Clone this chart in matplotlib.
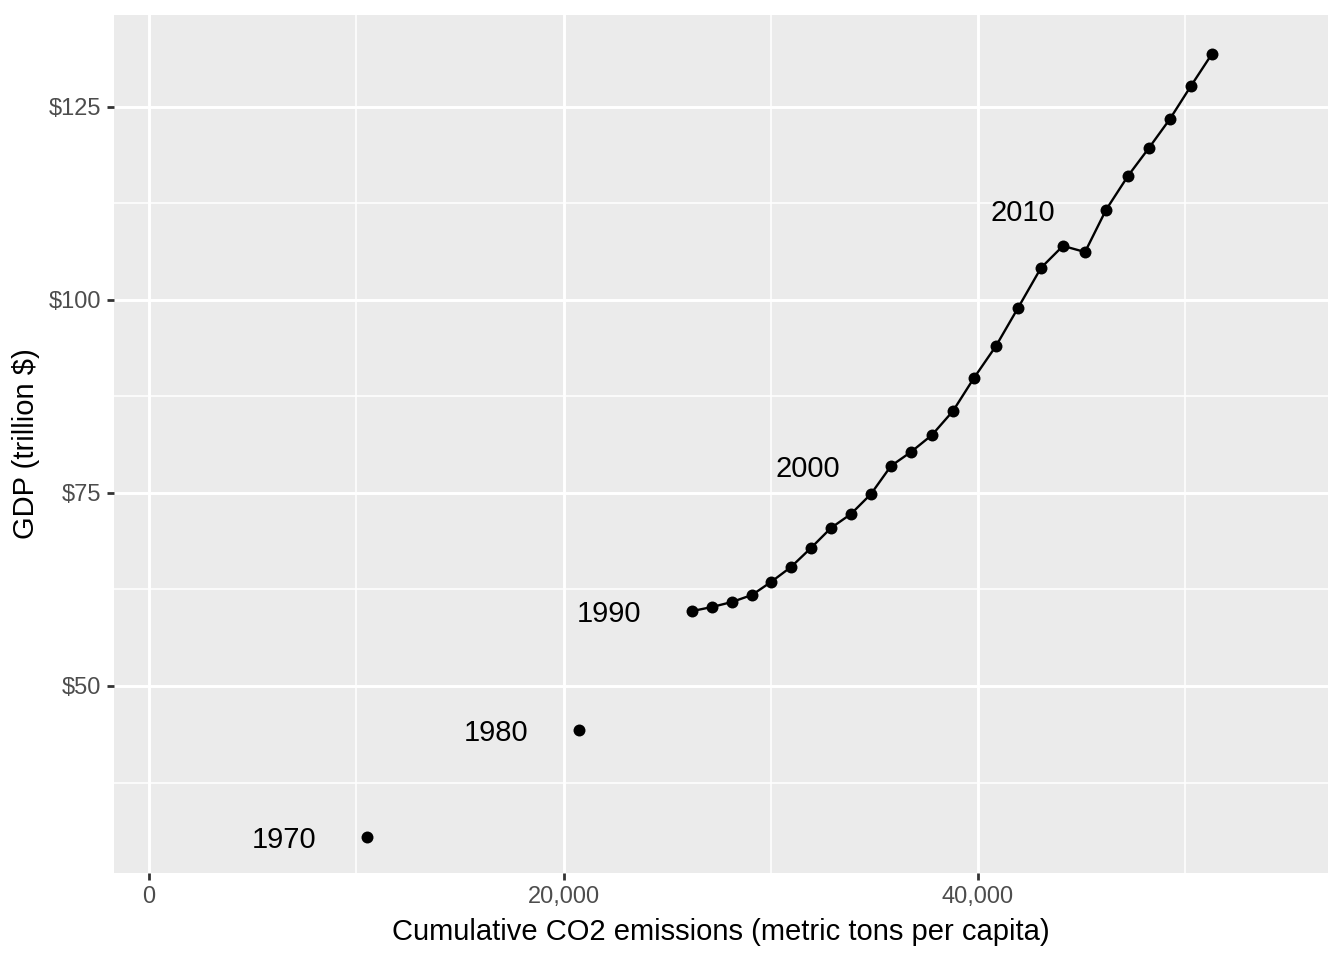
import matplotlib
matplotlib.use("Agg")
import matplotlib.pyplot as plt
from matplotlib.ticker import FuncFormatter, FixedLocator

plt.rcParams['font.family'] = ['Liberation Sans', 'DejaVu Sans']

# Early decade points (shown as points only)
early_years = [1970, 1980]
early_co2 = [10518, 20747]
early_gdp = [30.44, 44.3]

# Annual series 1990-2015
years = list(range(1990, 2016))
co2 = [26200, 27165, 28130, 29095, 30012, 30977, 31942, 32907, 33872, 34837,
       35802, 36767, 37780, 38794, 39807, 40868, 41930, 43039, 44101, 45163,
       46176, 47237, 48250, 49264, 50277, 51290]
gdp = [59.7, 60.23, 60.88, 61.79, 63.47, 65.41, 67.88, 70.47, 72.28, 74.87,
       78.5, 80.31, 82.51, 85.62, 89.9, 94.04, 98.96, 104.15, 107.0, 106.2,
       111.66, 116.06, 119.69, 123.45, 127.72, 131.87]

label_years = [1970, 1980, 1990, 2000, 2010]
label_nudge = -4000

x_major = [0, 20000, 40000]
x_minor = [10000, 30000, 50000]
y_major = [50, 75, 100, 125]
y_minor = [37.5, 62.5, 87.5, 112.5]

fig = plt.figure(figsize=(13.44, 9.6), dpi=100)
ax = fig.add_axes([114/1344, (960-873)/960, (1328-114)/1344, (873-15)/960])
ax.set_facecolor('#EBEBEB')
for s in ax.spines.values():
    s.set_visible(False)

ax.set_xlim(-1689, 56887)
ax.set_ylim(25.78, 136.9)

for v in x_minor:
    ax.axvline(v, color='white', lw=1.1, zorder=0.5)
for v in y_minor:
    ax.axhline(v, color='white', lw=1.1, zorder=0.5)
for v in x_major:
    ax.axvline(v, color='white', lw=2.1, zorder=0.6)
for v in y_major:
    ax.axhline(v, color='white', lw=2.1, zorder=0.6)

ax.plot(co2, gdp, color='black', lw=1.7, zorder=2)
ax.plot(co2, gdp, 'o', color='black', ms=8.6, mec='none', zorder=3)
ax.plot(early_co2, early_gdp, 'o', color='black', ms=8.6, mec='none', zorder=3)

all_years = early_years + years
all_x = early_co2 + co2
all_y = early_gdp + gdp
for yr, xv, yv in zip(all_years, all_x, all_y):
    if yr in label_years:
        ax.text(xv + label_nudge, yv, str(yr), ha='center', va='center_baseline',
                fontsize=21, color='black', zorder=4)

ax.xaxis.set_major_locator(FixedLocator(x_major))
ax.yaxis.set_major_locator(FixedLocator(y_major))
ax.xaxis.set_major_formatter(FuncFormatter(lambda v, p: f"{int(v):,}"))
ax.yaxis.set_major_formatter(FuncFormatter(lambda v, p: f"${int(v)}"))
ax.tick_params(axis='both', length=5.3, width=2.0, color='#333333',
               labelsize=17, labelcolor='#4D4D4D', pad=4)

ax.set_xlabel('Cumulative CO2 emissions (metric tons per capita)', fontsize=21,
              color='black', labelpad=7)
ax.set_ylabel('GDP (trillion $)', fontsize=21, color='black', labelpad=6)

fig.savefig('out.png', dpi=100, facecolor='white')
